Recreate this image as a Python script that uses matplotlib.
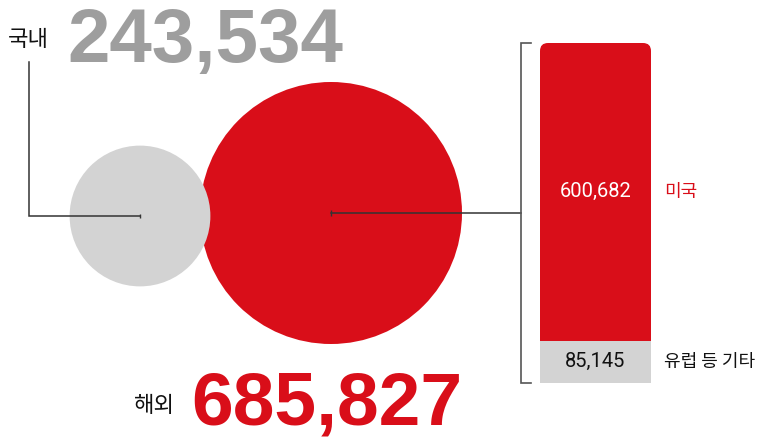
import matplotlib
matplotlib.use("Agg")
import matplotlib.pyplot as plt
from matplotlib.patches import Circle, FancyBboxPatch, Rectangle

# ---- data ----
regions = ["국내", "해외"]
region_values = [243534, 685827]
overseas_labels = ["미국", "유럽 등 기타"]
overseas_values = [600682, 85145]

RED = "#D90E19"
LGRAY = "#D3D3D3"
NUMGRAY = "#9E9E9E"
LINE = "#333333"
KR = ["Noto Sans CJK KR", "DejaVu Sans"]
NUM = ["Liberation Sans", "DejaVu Sans"]
SMALL = ["Roboto", "DejaVu Sans"]

W, H = 757, 438
fig = plt.figure(figsize=(W / 100, H / 100), dpi=100)
ax = fig.add_axes([0, 0, 1, 1])
ax.set_xlim(0, W)
ax.set_ylim(H, 0)
ax.set_aspect("equal")
ax.axis("off")

# circle sizes from values
k = 131 / region_values[1] ** 0.6
radii = [k * v ** 0.6 for v in region_values]
centers = [(140, 216), (331, 213)]
colors = [LGRAY, RED]

ax.add_patch(Circle(centers[1], radii[1], color=colors[1], zorder=1, lw=0))
ax.add_patch(Circle(centers[0], radii[0], color=colors[0], zorder=2, lw=0))

# leader lines
ax.plot([centers[0][0], 29, 29], [centers[0][1], centers[0][1], 62], color=LINE, lw=1.1, zorder=3,
        solid_joinstyle="miter")
ax.plot([centers[0][0]], [centers[0][1]], marker="|", ms=3, color=LINE, zorder=3)
ax.plot([centers[1][0], 521], [centers[1][1], centers[1][1]], color=LINE, lw=1.1, zorder=3)
ax.plot([centers[1][0]], [centers[1][1]], marker="|", ms=4, color=LINE, zorder=3)
# bracket
ax.plot([531, 521, 521, 531], [43, 43, 383, 383], color="#555555", lw=1.2, zorder=3,
        solid_joinstyle="miter")

# big labels
ax.text(8, 40, regions[0], fontsize=16, family=KR, color="#111111", va="center", ha="left")
ax.text(67, 62, f"{region_values[0]:,}", fontsize=55, family=NUM, weight="bold",
        color=NUMGRAY, va="baseline", ha="left")
ax.text(134, 406, regions[1], fontsize=16, family=KR, color="#111111", va="center", ha="left")
ax.text(191, 425, f"{region_values[1]:,}", fontsize=54, family=NUM, weight="bold",
        color=RED, va="baseline", ha="left", clip_on=False)

# ---- stacked bar in its own axes ----
total = sum(overseas_values)
bx0, bx1, by0, by1 = 540, 651, 43, 383
bax = fig.add_axes([bx0 / W, 1 - by1 / H, (bx1 - bx0) / W, (by1 - by0) / H])
bax.set_xlim(0, 1)
bax.set_ylim(0, total)
bax.axis("off")
px_w = bx1 - bx0
px_h = by1 - by0
aspect = (total / px_h) / (1 / px_w)
bax.add_patch(FancyBboxPatch((0, 0), 1, total,
                             boxstyle=f"round,pad=0,rounding_size={8 / px_w}",
                             mutation_aspect=aspect, color=RED, lw=0))
bax.add_patch(Rectangle((0, 0), 1, overseas_values[1], color=LGRAY, lw=0))

red_mid = overseas_values[1] + overseas_values[0] / 2
gray_mid = overseas_values[1] / 2
bax.text(0.5, red_mid, f"{overseas_values[0]:,}", fontsize=14.5, family=SMALL,
         color="white", ha="center", va="center")
bax.text(0.5, gray_mid, f"{overseas_values[1]:,}", fontsize=14.5, family=SMALL,
         color="#111111", ha="center", va="center")
bax.text(1.12, red_mid, overseas_labels[0], fontsize=13, family=KR, color=RED,
         ha="left", va="center", clip_on=False)
bax.text(1.12, gray_mid, overseas_labels[1], fontsize=13, family=KR, color="#111111",
         ha="left", va="center", clip_on=False)

fig.savefig("out.png", dpi=100)
